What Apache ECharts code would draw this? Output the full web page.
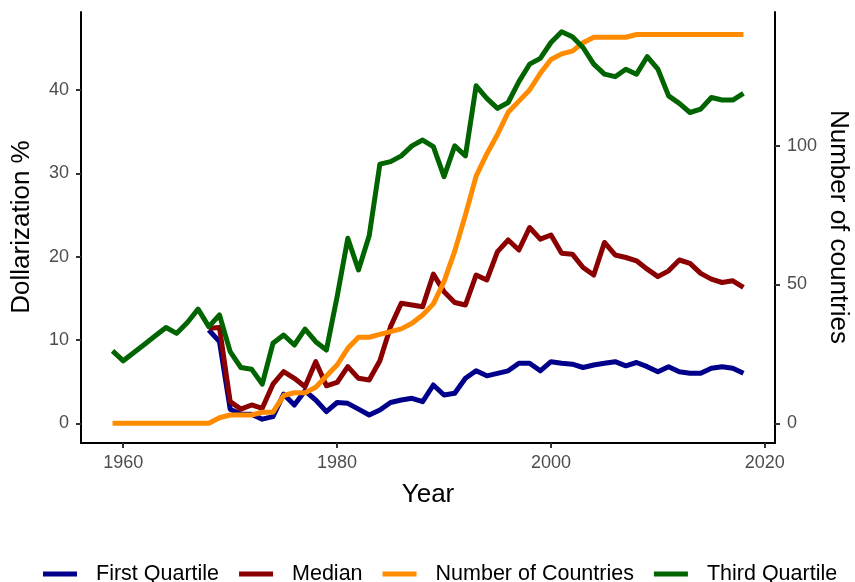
<!DOCTYPE html>
<html>
<head>
<meta charset="utf-8">
<script src="https://cdn.jsdelivr.net/npm/echarts@6/dist/echarts.min.js"></script>
<style>
html,body{margin:0;padding:0;background:#fff;}
#chart{width:855px;height:582px;}
</style>
</head>
<body>
<div id="chart"></div>
<script>
const years = [1959,1960,1961,1962,1963,1964,1965,1966,1967,1968,
  1969,1970,1971,1972,1973,1974,1975,1976,1977,1978,
  1979,1980,1981,1982,1983,1984,1985,1986,1987,1988,
  1989,1990,1991,1992,1993,1994,1995,1996,1997,1998,
  1999,2000,2001,2002,2003,2004,2005,2006,2007,2008,
  2009,2010,2011,2012,2013,2014,2015,2016,2017,2018];

const firstQuartile = [null,null,null,null,null,null,null,null,null,11.2,
  9.8,1.7,1.1,1.1,0.5,0.8,3.5,2.2,3.9,2.8,
  1.4,2.5,2.4,1.7,1.0,1.6,2.5,2.8,3.0,2.6,
  4.6,3.4,3.6,5.4,6.3,5.7,6.0,6.3,7.2,7.2,
  6.3,7.4,7.2,7.1,6.7,7.0,7.2,7.4,6.9,7.3,
  6.8,6.2,6.8,6.2,6.0,6.0,6.6,6.8,6.6,6.0];

const median = [null,null,null,null,null,null,null,null,null,11.4,
  11.5,2.6,1.7,2.2,1.8,4.7,6.2,5.4,4.4,7.4,
  4.5,4.9,6.8,5.4,5.2,7.5,11.6,14.4,14.2,14.0,
  17.9,15.8,14.5,14.2,17.8,17.2,20.6,22.0,20.8,23.5,
  22.1,22.6,20.4,20.3,18.7,17.8,21.7,20.2,19.9,19.5,
  18.5,17.6,18.3,19.6,19.2,18.0,17.3,16.9,17.1,16.3];

const numberOfCountries = [0,0,0,0,0,0,0,0,0,0,
  2,3,3,3,4,4,10,11,11,13,
  17,21,27,31,31,32,33,34,36,39,
  43,51,62,75,89,97,104,112,116,120,
  126,131,133,134,137,139,139,139,139,140,
  140,140,140,140,140,140,140,140,140,140];

const thirdQuartile = [8.7,7.5,8.5,9.5,10.5,11.5,10.8,12.1,13.7,11.6,
  13.0,8.6,6.7,6.5,4.7,9.6,10.6,9.4,11.3,9.8,
  8.8,15.2,22.2,18.4,22.5,31.1,31.4,32.1,33.3,34.0,
  33.2,29.6,33.3,32.1,40.5,39.0,37.8,38.5,41.0,43.1,
  43.8,45.7,47.0,46.4,45.1,43.1,41.9,41.6,42.5,41.9,
  44.0,42.5,39.3,38.4,37.3,37.7,39.1,38.8,38.8,39.6];

const xTicks = [1960,1980,2000,2020];
const leftTicks = [0,10,20,30,40];
const rightTicks = [0,50,100];

const seriesNames = ['First Quartile','Median','Number of Countries','Third Quartile'];
const seriesColors = ['#00008B','#8B0000','#FF8C00','#006400'];

const FONT = '"Liberation Sans", Arial, sans-serif';

function pairs(vals){ return years.map((y,i)=>[y, vals[i]]); }

const chart = echarts.init(document.getElementById('chart'), null, {renderer:'canvas'});

function lineSeries(idx, vals, yAxisIndex){
  return {
    name: seriesNames[idx], type:'line', yAxisIndex: yAxisIndex,
    data: pairs(vals), showSymbol:false, symbol:'none', connectNulls:false,
    color: seriesColors[idx],
    lineStyle:{color: seriesColors[idx], width:5, join:'round', cap:'butt'},
    emphasis:{disabled:true}, z: 2+idx
  };
}

const labelStyle = {color:'#4D4D4D', fontSize:18, fontFamily:FONT};

const option = {
  animation:false,
  backgroundColor:'#ffffff',
  grid:{left:81, right:80, top:12.1, bottom:139.1},
  xAxis:{
    type:'value', min:1956.05, max:2020.95,
    axisLine:{show:true, onZero:false, lineStyle:{color:'#000', width:2}},
    axisTick:{show:true, customValues:xTicks, length:5, lineStyle:{color:'#333', width:2}},
    axisLabel:Object.assign({customValues:xTicks, margin:11, formatter:function(v){return String(v);}}, labelStyle),
    splitLine:{show:false}
  },
  yAxis:[{
    type:'value', min:-2.35, max:49.35, position:'left',
    axisLine:{show:true, onZero:false, lineStyle:{color:'#000', width:2}},
    axisTick:{show:true, customValues:leftTicks, length:5, lineStyle:{color:'#333', width:2}},
    axisLabel:Object.assign({customValues:leftTicks, margin:12}, labelStyle),
    splitLine:{show:false}
  },{
    type:'value', min:-7.05, max:148.05, position:'right',
    axisLine:{show:true, onZero:false, lineStyle:{color:'#000', width:2}},
    axisTick:{show:true, customValues:rightTicks, length:5, lineStyle:{color:'#333', width:2}},
    axisLabel:Object.assign({customValues:rightTicks, margin:12}, labelStyle),
    splitLine:{show:false}
  }],
  legend:{
    data: seriesNames, left:38, top:558, orient:'horizontal',
    icon:'rect', itemWidth:34, itemHeight:5, itemGap:20,
    textStyle:{fontSize:21.5, color:'#000', fontFamily:FONT, padding:[0,0,0,14]},
    selectedMode:false
  },
  graphic:[
    {type:'text', x:428, y:495, style:{text:'Year', font:'26px '+FONT, fill:'#000', align:'center', verticalAlign:'middle'}},
    {type:'text', x:22, y:227, rotation:Math.PI/2, style:{text:'Dollarization %', font:'26px '+FONT, fill:'#000', align:'center', verticalAlign:'middle'}},
    {type:'text', x:838, y:227, rotation:-Math.PI/2, style:{text:'Number of countries', font:'26px '+FONT, fill:'#000', align:'center', verticalAlign:'middle'}}
  ],
  series:[
    lineSeries(0, firstQuartile, 0),
    lineSeries(1, median, 0),
    lineSeries(2, numberOfCountries, 1),
    lineSeries(3, thirdQuartile, 0)
  ]
};
chart.setOption(option);
</script>
</body>
</html>
